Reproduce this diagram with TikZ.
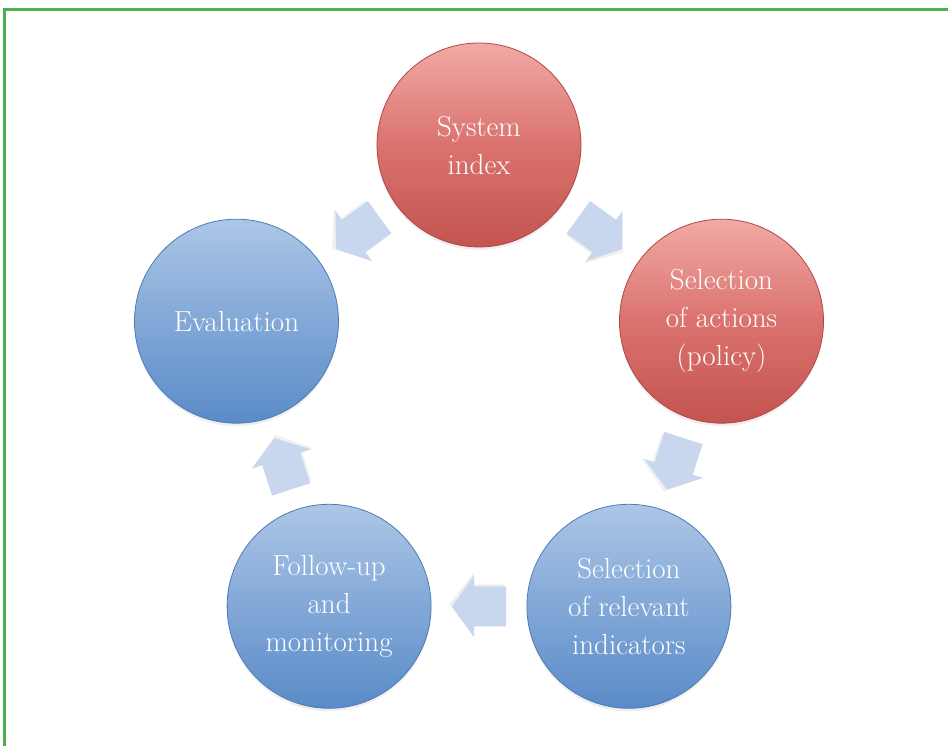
\documentclass[tikz,border=0pt]{standalone}
\usepackage{fontspec}
\usetikzlibrary{calc,shadows}
\definecolor{frameg}{RGB}{77,176,80}
\definecolor{redt}{RGB}{242,170,166}
\definecolor{redm}{RGB}{218,114,110}
\definecolor{redd}{RGB}{196,84,80}
\definecolor{redb}{RGB}{180,70,67}
\definecolor{bluet}{RGB}{172,198,230}
\definecolor{bluem}{RGB}{130,168,215}
\definecolor{blued}{RGB}{90,139,200}
\definecolor{blueb}{RGB}{78,123,182}
\definecolor{arrowc}{RGB}{200,215,237}
\tikzset{
  circ/.style={circle, minimum size=204pt, inner sep=0pt, align=center, text=white,
    font=\fontsize{29}{38}\selectfont, line width=0.8pt,
    drop shadow={opacity=0.12, shadow xshift=0pt, shadow yshift=-3pt}},
  redc/.style={circ, draw=redb, top color=redt, bottom color=redd, middle color=redm},
  bluec/.style={circ, draw=blueb, top color=bluet, bottom color=blued, middle color=bluem},
  barrow/.pic={
    \fill[black, opacity=0.06] (-25,-22) -- (5,-22) -- (5,-34) -- (30,-2) -- (5,30) -- (5,18) -- (-25,18) -- cycle;
    \fill[arrowc] (-27,-20) -- (5,-20) -- (5,-31) -- (27,0) -- (5,31) -- (5,20) -- (-27,20) -- cycle;
  }
}
\begin{document}
\begin{tikzpicture}[x=1pt,y=1pt]
\useasboundingbox (0,0) rectangle (948,746);
\fill[white] (0,0) rectangle (948,746);
\draw[frameg, line width=3pt] (4.5,0) -- (4.5,736.5) -- (948,736.5);

\node[redc]  (sys) at (479,601)     {System\\index};
\node[redc]  (act) at (721.5,424.8) {Selection\\of actions\\(policy)};
\node[bluec] (ind) at (628.9,139.7) {Selection\\of relevant\\indicators};
\node[bluec] (fol) at (329.1,139.7) {Follow-up\\and\\monitoring};
\node[bluec] (eva) at (236.5,424.8) {Evaluation};

\pic[rotate=-36]  at ($(sys)!0.5!(act)$) {barrow};
\pic[rotate=-108] at ($(act)!0.5!(ind)$) {barrow};
\pic[rotate=180]  at ($(ind)!0.5!(fol)$) {barrow};
\pic[rotate=108]  at ($(fol)!0.5!(eva)$) {barrow};
\pic[rotate=216]  at ($(sys)!0.5!(eva)$) {barrow};
\end{tikzpicture}
\end{document}
